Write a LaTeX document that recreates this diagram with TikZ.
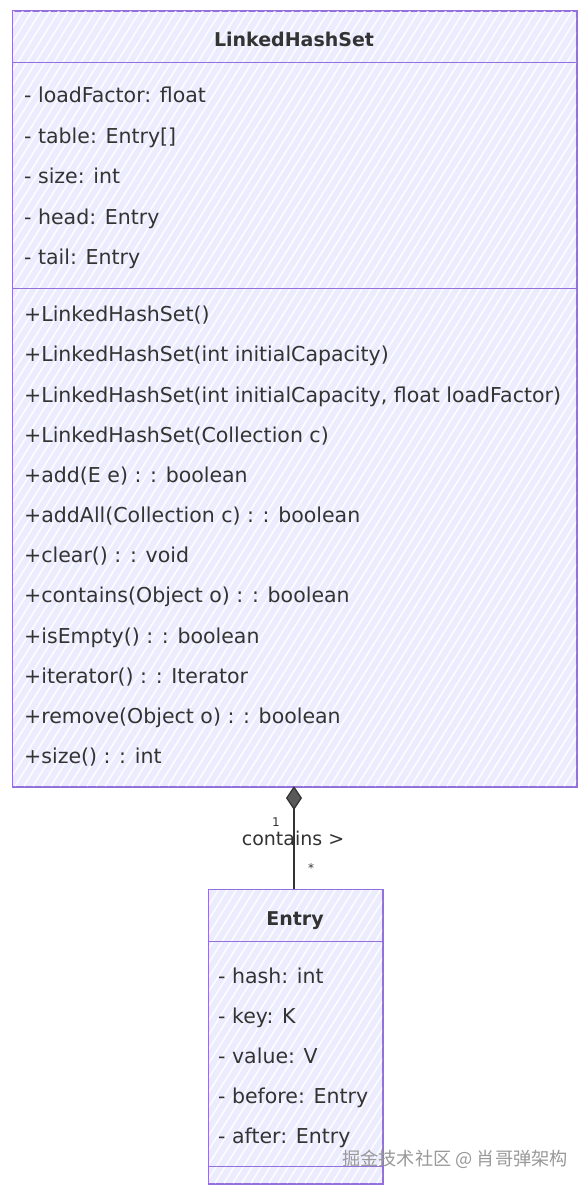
\documentclass[tikz,border=0pt]{standalone}
\usepackage{fontspec}
\setmainfont{DejaVu Sans}
\newfontfamily\cjk{Noto Sans CJK SC}
\usetikzlibrary{arrows.meta}
\definecolor{umlfill}{HTML}{ECECFF}
\definecolor{umlline}{HTML}{9370DB}
\definecolor{umltext}{HTML}{333333}
\begin{document}
\begin{tikzpicture}[x=1pt,y=-1pt,
  classbox/.style={draw=umlline, line width=1pt, fill=umlfill, inner sep=0pt, anchor=north west},
  member/.style={anchor=base west, font=\fontsize{20.5}{22}\selectfont, text=umltext, inner sep=0pt},
  ctitle/.style={anchor=base, font=\bfseries\fontsize{19}{21}\selectfont, text=umltext, inner sep=0pt},
  divider/.style={draw=umlline, line width=1pt},
  hatch/.style={draw=white, line width=1.6pt, opacity=0.85},
  lbl/.style={font=\fontsize{19}{21}\selectfont, text=umltext, inner sep=0pt},
  small/.style={font=\fontsize{12}{14}\selectfont, text=umltext, inner sep=0pt}]
\useasboundingbox (0,0) rectangle (588,1188);
\fill[white] (0,0) rectangle (588,1188);
% main class box
\node[classbox, minimum width=564pt, minimum height=775pt] (main) at (12,11) {};
\begin{scope}
  \clip (12,11) rectangle (576,786);
  \foreach \i in {-480,-471,...,580} \draw[hatch] (\i,786) -- ++(485,-775);
\end{scope}
\draw[draw=umlline, line width=1pt] (main.north west) rectangle (main.south east);
\draw[divider] (12,63) -- (576,63);
\draw[divider] (12,288) -- (576,288);
\node[ctitle] (t1) at (294,47) {LinkedHashSet};
\node[member] (a1) at (24,103) {- loadFactor: float};
\node[member] (a2) at (24,143) {- table: Entry[]};
\node[member] (a3) at (24,183) {- size: int};
\node[member] (a4) at (24,224) {- head: Entry};
\node[member] (a5) at (24,264) {- tail: Entry};
\node[member] (m1) at (24,321) {+LinkedHashSet()};
\node[member] (m2) at (24,361) {+LinkedHashSet(int initialCapacity)};
\node[member] (m3) at (24,402) {+LinkedHashSet(int initialCapacity, float loadFactor)};
\node[member] (m4) at (24,442) {+LinkedHashSet(Collection c)};
\node[member] (m5) at (24,482) {+add(E e) : : boolean};
\node[member] (m6) at (24,522) {+addAll(Collection c) : : boolean};
\node[member] (m7) at (24,562) {+clear() : : void};
\node[member] (m8) at (24,602) {+contains(Object o) : : boolean};
\node[member] (m9) at (24,643) {+isEmpty() : : boolean};
\node[member] (m10) at (24,683) {+iterator() : : Iterator};
\node[member] (m11) at (24,723) {+remove(Object o) : : boolean};
\node[member] (m12) at (24,763) {+size() : : int};
% entry class box
\node[classbox, minimum width=174pt, minimum height=294pt] (entry) at (208,889) {};
\begin{scope}
  \clip (208,889) rectangle (382,1183);
  \foreach \i in {-190,-181,...,390} \draw[hatch] (\i,1183) -- ++(184,-294);
\end{scope}
\draw[draw=umlline, line width=1pt] (entry.north west) rectangle (entry.south east);
\draw[divider] (208,941) -- (382,941);
\draw[divider] (208,1166) -- (382,1166);
\node[ctitle] (t2) at (295,925) {Entry};
\node[member] (e1) at (218,983) {- hash: int};
\node[member] (e2) at (218,1023) {- key: K};
\node[member] (e3) at (218,1063) {- value: V};
\node[member] (e4) at (218,1103) {- before: Entry};
\node[member] (e5) at (218,1143) {- after: Entry};
% association
\coordinate (src) at (294,786);
\coordinate (dst) at (294,889);
\draw[line width=1.3pt, draw=umltext, {Diamond[length=24pt,width=16pt,fill=gray!70!black]}-] (src) -- (dst);
\node[small] (one) at (276,822) {1};
\node[lbl] (rel) at (293,838) {contains >};
\node[small] (many) at (311,868) {*};
% watermark
\node[font=\cjk\fontsize{18.2}{20}\selectfont, text=gray!80, anchor=base east, inner sep=0pt] (wm) at (568,1165) {掘金技术社区 @ 肖哥弹架构};
\end{tikzpicture}
\end{document}
